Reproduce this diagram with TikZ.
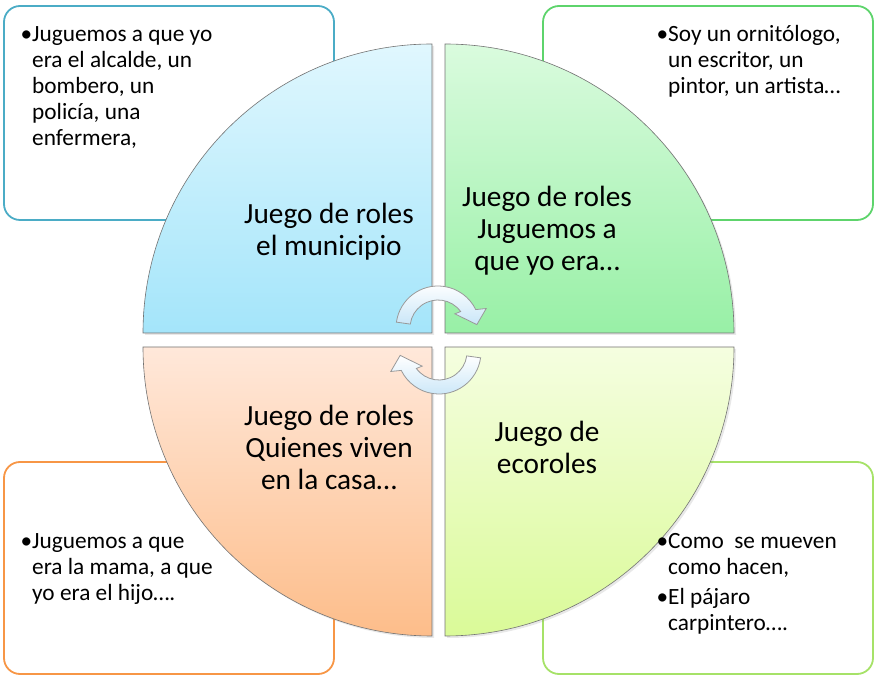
\documentclass[tikz,border=0pt]{standalone}
\usepackage{fontspec}
\setmainfont{Carlito}
\usetikzlibrary{shadows}
\definecolor{bBlue}{HTML}{4BACC6}
\definecolor{bGreen}{HTML}{5ED46C}
\definecolor{bOrange}{HTML}{F79646}
\definecolor{bLime}{HTML}{A6E268}
\definecolor{qBlueT}{HTML}{E0F7FE}
\definecolor{qBlueB}{HTML}{A4E5FA}
\definecolor{qGreenT}{HTML}{DAFBDE}
\definecolor{qGreenB}{HTML}{98F0A6}
\definecolor{qOrangeT}{HTML}{FFE8DA}
\definecolor{qOrangeB}{HTML}{FDBD8A}
\definecolor{qLimeT}{HTML}{F5FEE0}
\definecolor{qLimeB}{HTML}{DAFA98}
\definecolor{arrowBlue}{HTML}{C9E6F8}
\newcommand{\bul}{\leavevmode\llap{•}}
\begin{document}
\begin{tikzpicture}[x=1pt,y=1pt,
  infobox/.style={draw, line width=1.8pt, rounded corners=16pt, fill=white},
  quad/.style={draw=black!55, line width=0.6pt,
    drop shadow={shadow xshift=2pt, shadow yshift=-2pt, opacity=0.18}},
  cyclearrow/.style={draw=black!40, line width=0.8pt, top color=white, bottom color=arrowBlue},
  qtext/.style={anchor=base, inner sep=0pt, font=\fontsize{29.3}{31.8}\selectfont},
  btext/.style={anchor=base west, inner sep=0pt, font=\fontsize{23.3}{26}\selectfont}]
\useasboundingbox (0,0) rectangle (875,677);

% corner boxes
\draw[infobox, draw=bBlue]   (4,457) rectangle (334,671);
\draw[infobox, draw=bGreen]  (543,457) rectangle (873,671);
\draw[infobox, draw=bOrange] (4,3) rectangle (334,215);
\draw[infobox, draw=bLime]   (543,3) rectangle (873,215);

% quadrants
\path[quad, top color=qBlueT, bottom color=qBlueB]
  (432,344) -- (143,344) arc[start angle=180, end angle=90, radius=289pt] -- cycle;
\path[quad, top color=qGreenT, bottom color=qGreenB]
  (445,344) -- (445,633) arc[start angle=90, end angle=0, radius=289pt] -- cycle;
\path[quad, top color=qOrangeT, bottom color=qOrangeB]
  (432,330) -- (432,41) arc[start angle=270, end angle=180, radius=289pt] -- cycle;
\path[quad, top color=qLimeT, bottom color=qLimeB]
  (445,330) -- (734,330) arc[start angle=0, end angle=-90, radius=289pt] -- cycle;

% circular arrows
\begin{scope}[shift={(438,349)}]
\path[cyclearrow] (172:42pt) arc[start angle=172, end angle=26, radius=42pt]
  -- (22:52pt) -- (5:39pt) -- (40:22pt) -- (36:28pt)
  arc[start angle=36, end angle=172, radius=28pt] -- cycle;
\end{scope}
\begin{scope}[shift={(439,325)}, rotate=180]
\path[cyclearrow] (172:42pt) arc[start angle=172, end angle=26, radius=42pt]
  -- (22:52pt) -- (5:39pt) -- (40:22pt) -- (36:28pt)
  arc[start angle=36, end angle=172, radius=28pt] -- cycle;
\end{scope}

% quadrant texts
\node[qtext] (tl) at (329,453) {\parbox[t]{220pt}{\centering Juego de roles\\el municipio}};
\node[qtext] (tr) at (547,470) {\parbox[t]{220pt}{\centering Juego de roles\\Juguemos a\\que yo era…}};
\node[qtext] (bl) at (329,251) {\parbox[t]{220pt}{\centering Juego de roles\\Quienes viven\\en la casa…}};
\node[qtext] (br) at (547,235) {\parbox[t]{220pt}{\centering Juego de\\ecoroles}};

% box texts
\node[btext] (tlb) at (32,635) {\parbox[t]{250pt}{\raggedright\bul Juguemos a que yo\\era el alcalde, un\\bombero, un\\policía, una\\enfermera,}};
\node[btext] (trb) at (668,635) {\parbox[t]{250pt}{\raggedright\bul Soy un ornitólogo,\\un escritor, un\\pintor, un artista…}};
\node[btext] (blb) at (32,128) {\parbox[t]{250pt}{\raggedright\bul Juguemos a que\\era la mama, a que\\yo era el hijo….}};
\node[btext] (brb) at (668,128) {\parbox[t]{250pt}{\raggedright\bul Como~ se mueven\\como hacen,\\[4pt]\bul El pájaro\\carpintero….}};
\end{tikzpicture}
\end{document}
